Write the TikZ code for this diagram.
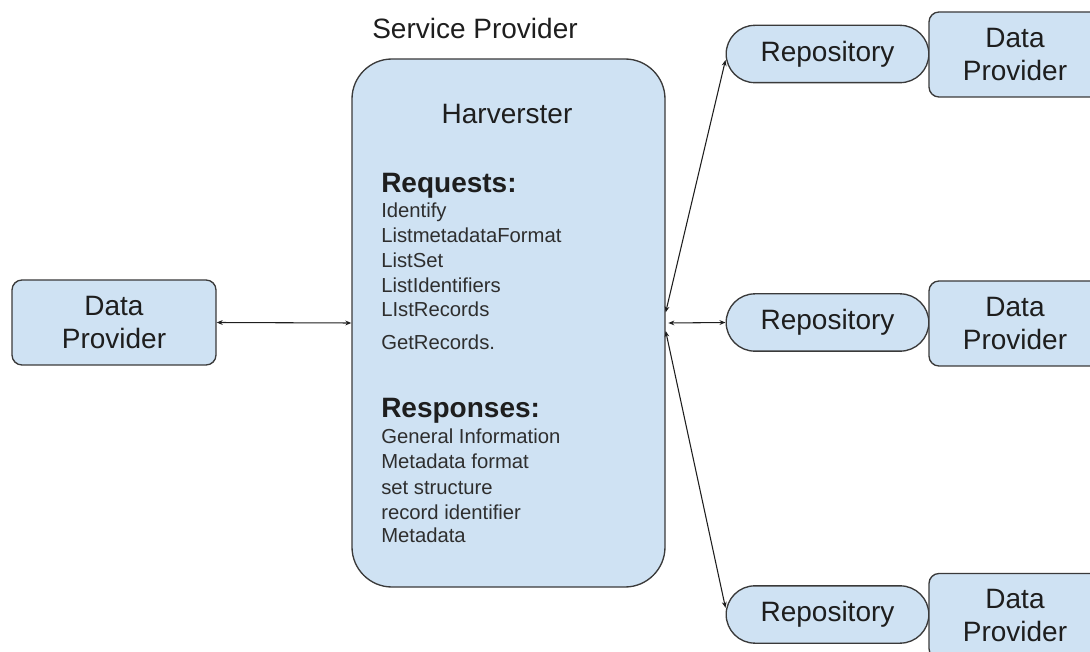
\documentclass[tikz,border=0pt]{standalone}
\usepackage{fontspec}
\setmainfont{Liberation Sans}
\usetikzlibrary{arrows.meta,shapes.misc}
\definecolor{boxfill}{HTML}{CFE2F3}
\definecolor{boxline}{HTML}{3A3A3A}
\definecolor{ink}{HTML}{1E1E1E}
\definecolor{itemink}{HTML}{2E2E2E}

\begin{document}
\begin{tikzpicture}[x=0.75pt,y=-0.75pt,
  big/.style={font=\fontsize{21}{24.75}\selectfont,text=ink},
  box/.style={big,draw=boxline,fill=boxfill,line width=1pt,
    rounded corners=7.5pt,align=center,inner sep=0pt},
  provider/.style={box,minimum height=63.75pt},
  repo/.style={big,draw=boxline,fill=boxfill,line width=1pt,
    rounded rectangle,minimum width=152pt,minimum height=43pt,inner sep=0pt},
  heading/.style={anchor=base west,inner sep=0pt,text=ink,
    font=\fontsize{21}{24}\selectfont\bfseries},
  item/.style={anchor=base west,inner sep=0pt,text=itemink,
    font=\fontsize{15.2}{18}\selectfont},
  link/.style={draw=ink,line width=0.8pt,
    {Stealth[length=4.5pt,width=3.6pt]}-{Stealth[length=4.5pt,width=3.6pt]}}]

\path[use as bounding box] (0,0) rectangle (1090,652);
\clip (0,0) rectangle (1090,652);

% service provider with its harvester
\node[big,anchor=base,inner sep=0pt] (sp) at (475,39) {Service Provider};
\node[box,rounded corners=30pt,minimum width=234.75pt,minimum height=396pt] (harv) at (508.5,323) {};
\node[big,anchor=base,inner sep=0pt] (harvlabel) at (507,124) {Harverster};

\node[heading] (req) at (381,193) {Requests:};
\node[item] (r1) at (381,218) {Identify};
\node[item] (r2) at (381,243) {ListmetadataFormat};
\node[item] (r3) at (381,268) {ListSet};
\node[item] (r4) at (381,293) {ListIdentifiers};
\node[item] (r5) at (381,317) {LIstRecords};
\node[item] (r6) at (381,350) {GetRecords.};

\node[heading] (resp) at (381,418) {Responses:};
\node[item] (s1) at (381,444) {General Information};
\node[item] (s2) at (381,469) {Metadata format};
\node[item] (s3) at (381,494) {set structure};
\node[item] (s4) at (381,519) {record identifier};
\node[item] (s5) at (381,542) {Metadata};

% data provider on the left
\node[provider,minimum width=153pt] (dpl) at (114,322.5) {Data\\Provider};

% repositories and their data providers on the right
\node[repo] (rep1) at (827.5,54) {Repository};
\node[repo] (rep2) at (827.5,322.5) {Repository};
\node[repo] (rep3) at (827.5,614.5) {Repository};

\node[provider,minimum width=129pt] (dp1) at (1015,54.5) {Data\\Provider};
\node[provider,minimum width=129pt] (dp2) at (1015,323.5) {Data\\Provider};
\node[provider,minimum width=129pt] (dp3) at (1015,616) {Data\\Provider};

% connectors
\draw[link] (dpl.east) -- (harv.west);
\draw[link] ([yshift=8pt]harv.east) -- ([yshift=-4.5pt]rep1.west);
\draw[link] ([xshift=2pt]harv.east) -- (rep2.west);
\draw[link] ([yshift=-6pt]harv.east) -- ([yshift=5pt]rep3.west);
\end{tikzpicture}
\end{document}
